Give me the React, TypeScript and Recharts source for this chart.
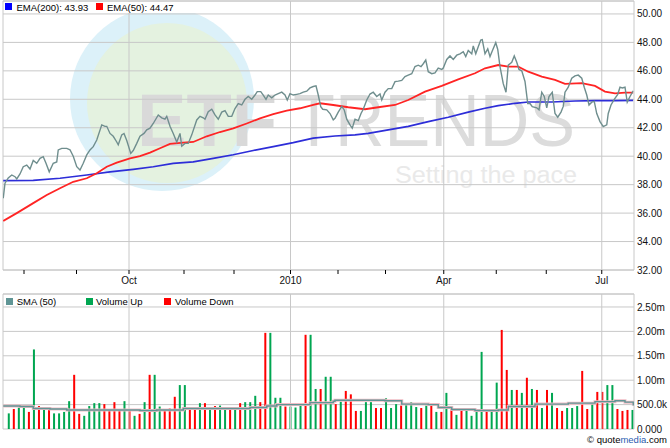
import React from 'react';
import { ComposedChart, Line, Bar, XAxis, YAxis, CartesianGrid, ReferenceLine } from 'recharts';

// x unit: trading-day index from the first day shown (late July 2009)
const X_DOMAIN: [number, number] = [0, 252.4];
const MONTH_TICKS = [8.4, 29.4, 50.4, 72.4, 92.4, 115, 134, 153, 176.3, 197.3, 217.3, 239.5];
const MONTH_LABELS = ['', '', 'Oct', '', '', '2010', '', '', 'Apr', '', '', 'Jul'];

const PRICE_DOMAIN: [number, number] = [32, 50.91];
const PRICE_TICKS = [32, 34, 36, 38, 40, 42, 44, 46, 48, 50];
const VOLUME_DOMAIN: [number, number] = [0, 2.766];
const VOLUME_TICKS = [0, 0.5, 1, 1.5, 2, 2.5];

// closing price [t, price]
const PRICE: [number, number][] = [
  [0.1, 37.05], [0.8, 38.1], [2.1, 38.47], [3.5, 38.68], [4.8, 38.56], [5.5, 38.4], [6.8, 38.75],
  [8.1, 39.26], [9.5, 39.38], [10.8, 39.1], [12.1, 39.7], [13.5, 39.5], [14.8, 39.85], [16.1, 39.97],
  [17.2, 39.5], [18.5, 38.9], [20.1, 39.5], [21.5, 39.6], [22.1, 40.44], [23.5, 40.55], [25.5, 40.55],
  [26.8, 40.45], [28.1, 40.0], [29.5, 39.26], [30.8, 39.03], [32.1, 39.5], [33.5, 40.09], [34.8, 40.44],
  [36.1, 40.67], [37.5, 41.14], [39.5, 42.2], [40.8, 42.1], [41.5, 42.1], [42.8, 41.6], [44.1, 41.4],
  [45.5, 41.0], [46.1, 40.8], [47.5, 41.5], [48.4, 41.6], [49.5, 41.1], [51.1, 40.2], [52.1, 40.4],
  [53.5, 40.9], [54.8, 41.4], [56.4, 41.6], [57.5, 41.85], [58.8, 41.97], [60.1, 42.3], [62.1, 42.9],
  [63.5, 42.7], [64.8, 42.6], [65.5, 42.8], [66.8, 42.1], [68.1, 41.6], [69.5, 41.0], [70.8, 41.6],
  [71.5, 40.7], [72.8, 40.9], [74.1, 40.9], [75.5, 41.5], [77.5, 42.55], [78.8, 42.8], [80.1, 42.7],
  [80.8, 42.6], [82.1, 43.13], [83.5, 43.3], [84.8, 42.9], [86.1, 42.6], [87.5, 43.1], [88.8, 43.2],
  [90.1, 42.8], [91.5, 42.8], [92.8, 43.35], [94.1, 43.7], [95.5, 43.6], [96.8, 44.0], [98.1, 44.2],
  [99.5, 44.0], [100.8, 44.3], [101.7, 44.54], [103.1, 44.54], [104.1, 44.3], [105.2, 44.0], [106.1, 44.3],
  [107.5, 44.1], [108.8, 44.3], [110.1, 44.4], [111.5, 44.5], [112.8, 44.3], [113.7, 43.95], [114.8, 44.4],
  [116.1, 44.3], [117.5, 44.35], [118.8, 44.4], [120.1, 44.5], [121.5, 44.57], [122.8, 44.8], [124.1, 44.9],
  [125.2, 44.94], [126.1, 44.3], [127.1, 43.48], [127.9, 43.3], [129.5, 43.26], [130.8, 43.0], [132.1, 42.55],
  [132.8, 42.66], [134.1, 43.1], [135.5, 43.5], [136.5, 43.25], [137.5, 42.6], [138.8, 42.2], [139.7, 41.97],
  [140.8, 42.6], [142.1, 42.5], [143.2, 43.0], [144.1, 43.3], [145.5, 43.95], [146.8, 44.37], [148.1, 44.5],
  [149.5, 44.2], [150.8, 44.37], [151.5, 43.95], [152.8, 44.5], [154.1, 44.75], [155.5, 44.75], [156.8, 45.24],
  [158.1, 45.28], [159.5, 45.33], [160.8, 45.6], [162.1, 45.7], [163.5, 45.8], [164.8, 46.3], [166.1, 46.4],
  [167.2, 46.3], [168.1, 46.5], [169.1, 46.76], [170.1, 45.94], [171.5, 45.8], [172.8, 45.85], [174.1, 46.2],
  [175.5, 46.1], [176.1, 46.2], [177.5, 46.8], [178.8, 47.05], [180.1, 46.8], [181.5, 47.1], [182.8, 47.2],
  [184.1, 47.35], [185.1, 47.0], [186.1, 47.43], [187.5, 47.2], [188.1, 47.75], [189.1, 47.2], [190.1, 47.7],
  [191.1, 48.17], [191.7, 48.2], [192.8, 47.2], [193.9, 47.55], [194.8, 47.0], [195.7, 47.4], [197.1, 47.98],
  [197.9, 47.5], [198.8, 46.3], [200.1, 45.1], [201.2, 44.5], [202.1, 46.4], [203.5, 46.6], [204.5, 47.05],
  [205.5, 46.6], [206.4, 46.1], [207.5, 46.0], [208.8, 45.25], [209.9, 43.7], [210.8, 43.7], [211.7, 43.48],
  [213.5, 43.4], [214.4, 43.26], [215.5, 44.5], [216.5, 44.2], [217.5, 43.4], [218.4, 44.2], [219.7, 44.5],
  [220.8, 43.0], [221.9, 42.74], [223.2, 43.1], [224.1, 43.5], [224.8, 44.5], [226.1, 44.85], [227.5, 45.48],
  [228.8, 45.65], [230.1, 45.7], [231.5, 45.48], [232.5, 44.85], [233.5, 44.3], [234.4, 43.6], [235.5, 43.8],
  [236.5, 43.85], [237.5, 43.0], [238.8, 42.43], [240.1, 42.08], [241.5, 42.2], [242.1, 43.0], [243.2, 43.6],
  [244.5, 44.0], [245.9, 44.35], [246.8, 44.85], [247.7, 44.8], [248.8, 44.85], [249.7, 43.8], [250.8, 44.2],
  [252.1, 44.6],
];

const EMA50: [number, number][] = [
  [0.1, 35.45], [5.5, 36.0], [12.1, 36.7], [17.5, 37.27], [22.8, 37.75], [28.1, 38.2], [33.5, 38.45],
  [37.5, 38.8], [41.5, 39.26], [45.5, 39.55], [50.8, 39.85], [54.8, 40.0], [58.8, 40.25], [62.8, 40.56],
  [66.8, 40.86], [72.1, 40.95], [76.1, 41.0], [81.5, 41.4], [86.8, 41.7], [92.1, 41.95], [97.5, 42.3],
  [102.8, 42.66], [108.1, 42.95], [113.5, 43.2], [118.8, 43.37], [124.1, 43.6], [126.8, 43.72], [132.1, 43.6],
  [138.1, 43.44], [144.8, 43.3], [150.1, 43.44], [156.8, 43.6], [162.1, 43.95], [168.8, 44.54], [175.5, 44.94],
  [182.1, 45.4], [188.8, 45.83], [192.8, 46.18], [198.1, 46.41], [202.1, 46.3], [206.1, 46.3], [210.1, 45.94],
  [215.5, 45.6], [220.8, 45.36], [224.8, 45.08], [231.5, 45.13], [236.8, 44.94], [240.8, 44.54], [244.8, 44.42],
  [248.8, 44.47], [252.1, 44.47],
];

const EMA200: [number, number][] = [
  [0.1, 38.28], [12.1, 38.3], [22.8, 38.45], [33.5, 38.68], [42.8, 38.9], [52.1, 39.08], [60.1, 39.26],
  [68.1, 39.5], [76.1, 39.6], [84.1, 39.85], [92.1, 40.1], [100.1, 40.4], [108.1, 40.67], [116.1, 40.95],
  [124.1, 41.27], [132.8, 41.42], [140.8, 41.5], [146.1, 41.6], [154.1, 41.85], [162.1, 42.1], [170.1, 42.43],
  [178.1, 42.74], [186.1, 43.1], [192.8, 43.37], [198.1, 43.55], [204.8, 43.72], [210.1, 43.81], [219.5, 43.81],
  [228.8, 43.88], [236.8, 43.9], [244.8, 43.9], [252.1, 43.93],
];

// volume, millions of shares, one bar per two sessions
const VOLUME = [
  0.32, 0.41, 0.44, 0.44, 0.35, 1.63, 0.47, 0.42, 0.42, 0.32,
  0.32, 0.35, 0.57, 1.11, 0.31, 0.27, 0.47, 0.53, 0.53, 0.51,
  0.38, 0.55, 0.38, 0.57, 0.39, 0.27, 0.31, 0.55, 1.11, 1.11,
  0.46, 0.38, 0.42, 0.66, 0.90, 0.90, 0.40, 0.40, 0.53, 0.53,
  0.40, 0.47, 0.48, 0.42, 0.44, 0.42, 0.53, 0.55, 0.55, 0.68,
  0.55, 1.97, 1.97, 0.64, 0.64, 0.46, 0.46, 0.44, 0.48, 1.93,
  1.93, 0.82, 0.82, 1.07, 1.07, 0.51, 0.56, 0.78, 0.71, 0.37,
  0.37, 0.55, 0.55, 0.43, 0.43, 0.63, 0.43, 0.51, 0.48, 0.51,
  0.55, 0.45, 0.43, 0.48, 0.48, 0.35, 0.35, 0.74, 0.45, 0.29,
  0.38, 0.38, 0.27, 0.38, 1.58, 0.38, 0.38, 0.95, 2.03, 1.21,
  0.80, 0.80, 0.74, 1.05, 0.82, 0.80, 0.43, 0.80, 0.74, 0.43,
  0.37, 0.43, 0.43, 0.47, 1.19, 0.41, 0.51, 0.76, 0.76, 0.90,
  0.90, 0.41, 0.37, 0.39, 0.39,
];
// G = volume up, R = volume down
const VOLUME_DIR =
  'GRGGRGRGRG' + 'GGGRRGGGGR' + 'RRRGRGRGRG' + 'GRRRGGRRGR' + 'GRGGRGRGGG' +
  'RRGGGRGGGR' + 'GGRGGRGRRR' + 'GGGRRGGGRG' + 'GGRGRGRGRG' + 'RGGGGRGGRR' +
  'GRGRGRGRGR' + 'RGGGRRGRRG' + 'GRRRG';
const VOLUME_T0 = 2.12;
const VOLUME_STEP = 2.012;

const SMA50: [number, number][] = [
  [0.1, 0.47], [6.8, 0.46], [12.1, 0.42], [18.8, 0.41], [25.5, 0.39], [32.1, 0.39], [41.5, 0.39],
  [46.8, 0.39], [54.8, 0.38], [61.5, 0.39], [68.1, 0.39], [72.1, 0.42], [85.5, 0.42], [98.8, 0.44],
  [105.5, 0.47], [109.5, 0.5], [118.8, 0.5], [122.8, 0.54], [132.1, 0.57], [132.8, 0.59], [146.1, 0.59],
  [152.8, 0.58], [159.5, 0.51], [170.1, 0.5], [174.1, 0.44], [179.5, 0.4], [188.8, 0.38], [198.1, 0.39],
  [202.1, 0.46], [212.8, 0.51], [226.1, 0.53], [236.8, 0.56], [244.8, 0.58], [248.8, 0.55], [252.1, 0.48],
];

const FONT = '"Liberation Sans", Arial, Helvetica, sans-serif';
const GRID = '#c8c8c8';
const UP = '#00a651';
const DOWN = '#ff0000';
const TICK_STYLE = { fill: '#111', fontSize: 10, fontFamily: FONT };

const toPts = (arr: [number, number][]) => arr.map(([t, v]) => ({ t, v }));

const fmtVolume = (v: number) => {
  if (v === 0) return '0.000';
  if (v < 1) return (v * 1000).toFixed(1) + 'k';
  return v.toFixed(2) + 'm';
};

const QUARTERS = MONTH_TICKS.filter((_, i) => MONTH_LABELS[i] !== '');

// draws each volume bar 2px wide, centred on the position the library computed
const VolumeBar = (props: any) => {
  const { x, y, width, height, payload } = props;
  if (!height || height <= 0) return null;
  const cx = x + width / 2;
  return <rect x={cx - 1} y={y} width={2} height={height} fill={payload.dir === 'G' ? UP : DOWN} />;
};

export default function App() {
  const priceData = toPts(PRICE);
  const ema50Data = toPts(EMA50);
  const ema200Data = toPts(EMA200);
  const smaData = toPts(SMA50);
  const volumeData = VOLUME.map((v, i) => ({ t: VOLUME_T0 + i * VOLUME_STEP, v, dir: VOLUME_DIR[i] }));

  const legendText: React.CSSProperties = {
    position: 'absolute', fontSize: 9.5, lineHeight: '11px', color: '#000', whiteSpace: 'nowrap', fontFamily: FONT,
  };
  const sq = (left: number, top: number, color: string): React.CSSProperties => ({
    position: 'absolute', left, top, width: 7, height: 7, background: color,
  });

  return (
    <div style={{ position: 'absolute', left: 0, top: 0, width: 670, height: 448, background: '#fff', overflow: 'hidden', fontFamily: FONT }}>
      {/* watermark */}
      <svg style={{ position: 'absolute', left: 0, top: 0 }} width={670} height={290}>
        <circle cx={162} cy={99} r={92} fill="#dcf1f9" />
        <circle cx={167} cy={103} r={80} fill="#e4f2e0" />
        <text x={137} y={146} fontSize={74} fontWeight="bold" fill="#d9d9d9" fontFamily={FONT} textLength={140} lengthAdjust="spacingAndGlyphs">ETF</text>
        <text x={293} y={146} fontSize={74} fill="#dcdcdc" fontFamily={FONT} textLength={282} lengthAdjust="spacingAndGlyphs">TRENDS</text>
        <text x={395} y={183} fontSize={23.5} fill="#e9e9e9" fontFamily={FONT} textLength={182} lengthAdjust="spacingAndGlyphs">Setting the pace</text>
      </svg>

      {/* price panel */}
      <div style={{ position: 'absolute', left: 0, top: 0 }}>
        <ComposedChart width={670} height={289} margin={{ top: 1, right: 0, bottom: 0, left: 3 }}>
          <CartesianGrid vertical={false} stroke={GRID} />
          <XAxis
            dataKey="t" type="number" domain={X_DOMAIN} allowDataOverflow ticks={MONTH_TICKS} interval={0}
            tickFormatter={(v: number) => MONTH_LABELS[MONTH_TICKS.indexOf(v)] ?? ''}
            height={19} axisLine={{ stroke: GRID }} tickLine={{ stroke: '#000' }} tickSize={4} tickMargin={3}
            tick={TICK_STYLE}
          />
          <YAxis
            orientation="right" type="number" domain={PRICE_DOMAIN} allowDataOverflow ticks={PRICE_TICKS} interval={0}
            tickFormatter={(v: number) => v.toFixed(2)} width={36} axisLine={{ stroke: GRID }} tickLine={false}
            tickSize={3} tickMargin={0} tick={TICK_STYLE}
          />
          {QUARTERS.map((q) => (
            <ReferenceLine key={q} x={q} stroke={GRID} />
          ))}
          <ReferenceLine x={X_DOMAIN[0]} stroke={GRID} />
          <ReferenceLine y={PRICE_DOMAIN[1]} stroke={GRID} />
          <Line data={ema200Data} dataKey="v" type="linear" stroke="#2d2dd8" strokeWidth={1.7} dot={false} activeDot={false} isAnimationActive={false} />
          <Line data={ema50Data} dataKey="v" type="linear" stroke="#ff2424" strokeWidth={1.8} dot={false} activeDot={false} isAnimationActive={false} />
          <Line data={priceData} dataKey="v" type="linear" stroke="#6f8e8e" strokeWidth={1.4} dot={false} activeDot={false} isAnimationActive={false} />
        </ComposedChart>
      </div>

      {/* volume panel: bars */}
      <div style={{ position: 'absolute', left: 0, top: 290 }}>
        <ComposedChart width={670} height={158} data={volumeData} margin={{ top: 4, right: 0, bottom: 19, left: 3 }}>
          <CartesianGrid vertical={false} stroke={GRID} />
          <XAxis dataKey="t" type="number" domain={X_DOMAIN} allowDataOverflow hide />
          <YAxis
            orientation="right" type="number" domain={VOLUME_DOMAIN} allowDataOverflow ticks={VOLUME_TICKS} interval={0}
            tickFormatter={fmtVolume} width={36} axisLine={{ stroke: GRID }} tickLine={false}
            tickSize={3} tickMargin={0} tick={TICK_STYLE}
          />
          {QUARTERS.map((q) => (
            <ReferenceLine key={q} x={q} stroke={GRID} />
          ))}
          <ReferenceLine x={X_DOMAIN[0]} stroke={GRID} />
          <ReferenceLine y={VOLUME_DOMAIN[1]} stroke={GRID} />
          <Bar dataKey="v" barSize={2} shape={VolumeBar} isAnimationActive={false} />
        </ComposedChart>
      </div>

      {/* volume panel: SMA(50) overlay (same scales; right margin = the 36px axis column) */}
      <div style={{ position: 'absolute', left: 0, top: 290 }}>
        <ComposedChart width={670} height={158} margin={{ top: 4, right: 36, bottom: 19, left: 3 }}>
          <XAxis dataKey="t" type="number" domain={X_DOMAIN} allowDataOverflow hide />
          <YAxis type="number" domain={VOLUME_DOMAIN} allowDataOverflow hide />
          <Line data={smaData} dataKey="v" type="stepAfter" stroke="#f0bcc4" strokeWidth={3} dot={false} activeDot={false} isAnimationActive={false} />
          <Line data={smaData} dataKey="v" type="stepAfter" stroke="#5f9595" strokeWidth={1.4} dot={false} activeDot={false} isAnimationActive={false} />
        </ComposedChart>
      </div>

      {/* price legend */}
      <div style={{ position: 'absolute', left: 4, top: 2, width: 256, height: 11, background: '#fff' }} />
      <div style={sq(5, 3, '#0000ff')} />
      <span style={{ ...legendText, left: 16.5, top: 2 }}>EMA(200): 43.93</span>
      <div style={sq(96, 3, '#ff0000')} />
      <span style={{ ...legendText, left: 107, top: 2 }}>EMA(50): 44.47</span>

      {/* volume legend */}
      <div style={sq(6, 298, '#5f9595')} />
      <span style={{ ...legendText, left: 16.7, top: 295.5 }}>SMA (50)</span>
      <div style={sq(86, 298, UP)} />
      <span style={{ ...legendText, left: 96, top: 295.5 }}>Volume Up</span>
      <div style={sq(164, 298, DOWN)} />
      <span style={{ ...legendText, left: 175, top: 295.5 }}>Volume Down</span>

      {/* credit */}
      <span style={{ ...legendText, left: 587, top: 434 }}>
        © quote<span style={{ color: '#2b5cb0' }}>media</span>.com
      </span>
    </div>
  );
}
